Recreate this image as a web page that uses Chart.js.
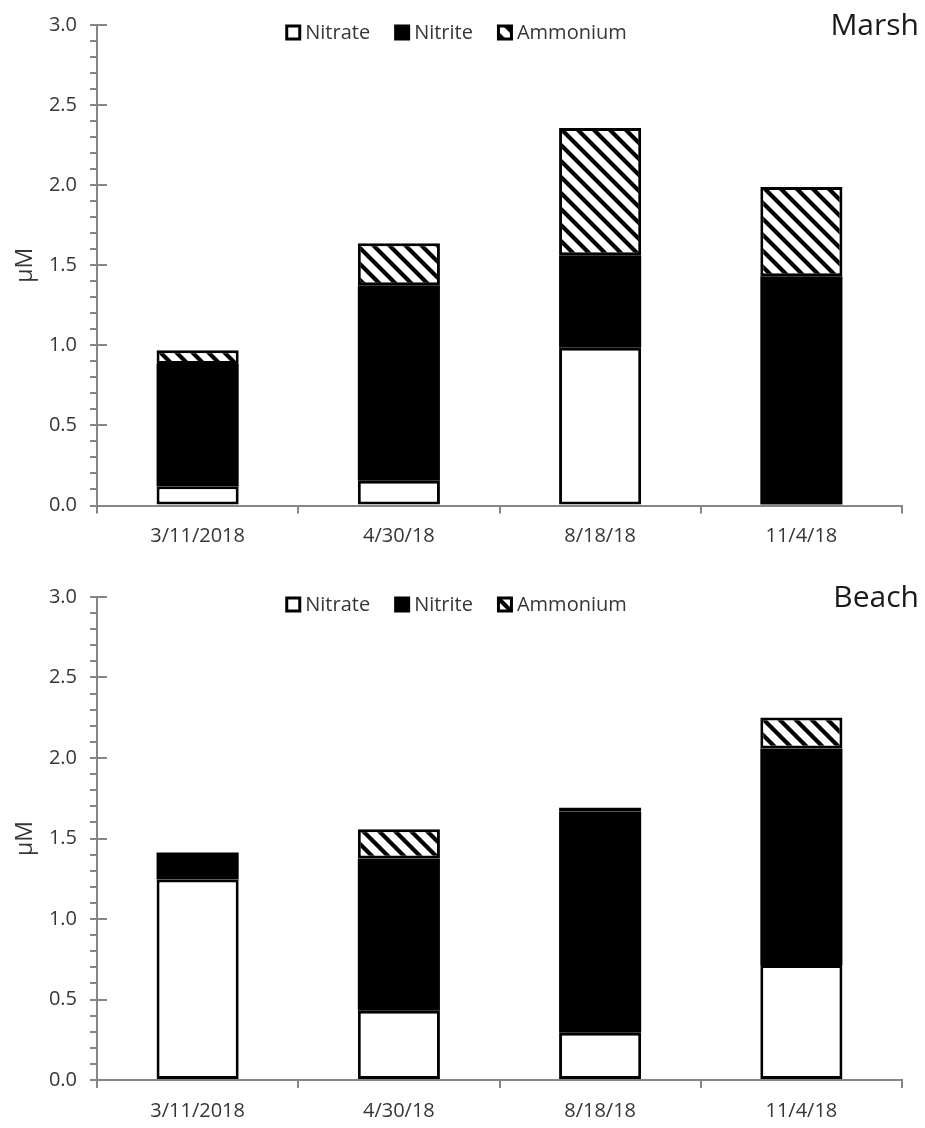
<!DOCTYPE html>
<html>
<head>
<meta charset="utf-8">
<script src="https://cdn.jsdelivr.net/npm/chart.js@4.4.1/dist/chart.umd.min.js"></script>
<style>
  html, body { margin: 0; padding: 0; background: #fff; }
  canvas { display: block; }
</style>
</head>
<body>
<canvas id="marshChart" width="925" height="564"></canvas>
<canvas id="beachChart" width="925" height="564"></canvas>
<script>
// Categories and labelled y ticks
const dates = ['3/11/2018', '4/30/18', '8/18/18', '11/4/18'];
const yLabels = [0, 0.5, 1.0, 1.5, 2.0, 2.5, 3.0];

// Marsh (µM)
const marshNitrate = [0.12, 0.155, 0.985, 0];
const marshNitrite = [0.763, 1.22, 0.577, 1.432];
const marshAmmonium = [0.087, 0.263, 0.795, 0.557];

// Beach (µM)
const beachNitrate = [1.245, 0.43, 0.294, 0.714];
const beachNitrite = [0.168, 0.946, 1.372, 1.345];
const beachAmmonium = [0, 0.182, 0.027, 0.192];

const axisGrey = '#868686';
const textGrey = '#363636';
const fontFamily = '"Open Sans", "Liberation Sans", sans-serif';

// diagonal hatch for ammonium
function makeHatch() {
    const c = document.createElement('canvas');
    c.width = 16;
    c.height = 16;
    const g = c.getContext('2d');
    g.fillStyle = '#fff';
    g.fillRect(0, 0, 16, 16);
    g.strokeStyle = '#000';
    g.lineWidth = 4.2;
    g.beginPath();
    g.moveTo(-4, -4); g.lineTo(20, 20);
    g.moveTo(-4, 12); g.lineTo(4, 20);
    g.moveTo(12, -4); g.lineTo(20, 4);
    g.stroke();
    return g.createPattern(c, 'repeat');
}
const hatch = makeHatch();

// major ticks cross the y axis
const majorTicks = {
    id: 'majorTicks',
    afterDraw(chart) {
        const y = chart.scales.y;
        const ctx = chart.ctx;
        ctx.save();
        ctx.strokeStyle = axisGrey;
        ctx.lineWidth = 2;
        yLabels.forEach(v => {
            const py = Math.round(y.getPixelForValue(v));
            ctx.beginPath();
            ctx.moveTo(y.right, py);
            ctx.lineTo(y.right + 10, py);
            ctx.stroke();
        });
        ctx.restore();
    }
};

// legend inside plot + site name at right
const insideLegend = {
    id: 'insideLegend',
    afterDraw(chart, args, opts) {
        const ctx = chart.ctx;
        const area = chart.chartArea;
        ctx.save();
        ctx.font = '20px ' + fontFamily;
        ctx.textBaseline = 'middle';
        const cy = area.top + 7.5;
        const items = chart.data.datasets.map(d => ({ label: d.label, fill: d.backgroundColor, w: ctx.measureText(d.label).width }));
        const total = items.reduce((s, it) => s + 16 + 4 + it.w, 0) + 24 * (items.length - 1);
        let x = 456 - total / 2;
        items.forEach(it => {
            ctx.fillStyle = it.fill;
            ctx.fillRect(x + 1.5, cy - 6.5, 13, 13);
            ctx.strokeStyle = '#000';
            ctx.lineWidth = 3;
            ctx.strokeRect(x + 1.5, cy - 6.5, 13, 13);
            ctx.fillStyle = textGrey;
            ctx.textAlign = 'left';
            ctx.fillText(it.label, x + 20, cy + 1);
            x += 20 + it.w + 24;
        });
        ctx.font = '30px ' + fontFamily;
        ctx.fillStyle = '#1a1a1a';
        ctx.textAlign = 'right';
        ctx.textBaseline = 'alphabetic';
        ctx.fillText(opts.title, 919, area.top + 9.5);
        ctx.restore();
    }
};

function makeChart(id, title, nitrate, nitrite, ammonium, padTop, padBottom) {
    const ctx = document.getElementById(id).getContext('2d');
    return new Chart(ctx, {
        type: 'bar',
        data: {
            labels: dates,
            datasets: [
                { label: 'Nitrate', data: nitrate, backgroundColor: '#ffffff' },
                { label: 'Nitrite', data: nitrite, backgroundColor: '#000000', borderWidth: 0 },
                { label: 'Ammonium', data: ammonium, backgroundColor: hatch }
            ]
        },
        options: {
            responsive: false,
            animation: false,
            layout: { padding: { top: padTop, bottom: padBottom, left: 0, right: 23 } },
            datasets: {
                bar: {
                    borderColor: '#000',
                    borderWidth: 3,
                    borderSkipped: false,
                    categoryPercentage: 1,
                    barPercentage: 0.408
                }
            },
            plugins: {
                legend: { display: false },
                tooltip: { enabled: false },
                insideLegend: { title: title }
            },
            scales: {
                x: {
                    stacked: true,
                    border: { color: axisGrey, width: 2 },
                    grid: { drawOnChartArea: false, color: axisGrey, lineWidth: 2, tickLength: 8, offset: true },
                    ticks: { color: textGrey, font: { family: fontFamily, size: 20 }, padding: 11 },
                    afterFit: s => { s.height = 44; }
                },
                y: {
                    stacked: true,
                    min: 0,
                    max: 3,
                    border: { color: axisGrey, width: 2 },
                    grid: { drawOnChartArea: false, color: axisGrey, lineWidth: 2, tickLength: 7 },
                    ticks: {
                        stepSize: 0.1,
                        autoSkip: false,
                        padding: 13,
                        color: textGrey,
                        font: { family: fontFamily, size: 20 },
                        callback: v => yLabels.some(t => Math.abs(t - v) < 1e-6) ? Number(v).toFixed(1) : ''
                    },
                    title: {
                        display: true,
                        text: 'µM',
                        color: textGrey,
                        font: { family: fontFamily, size: 23 },
                        padding: { top: 12, bottom: 0 }
                    },
                    afterFit: s => { s.width = 97; }
                }
            }
        },
        plugins: [majorTicks, insideLegend]
    });
}

makeChart('marshChart', 'Marsh', marshNitrate, marshNitrite, marshAmmonium, 22.5, 14.5);
makeChart('beachChart', 'Beach', beachNitrate, beachNitrite, beachAmmonium, 33, 4);
</script>
</body>
</html>
